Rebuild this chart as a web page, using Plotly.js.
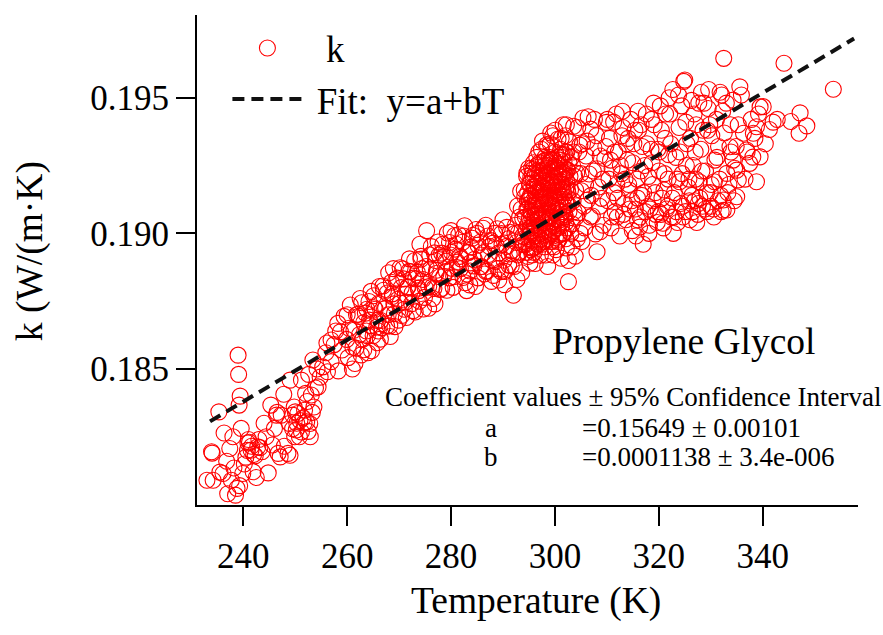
<!DOCTYPE html>
<html><head><meta charset="utf-8">
<script src="https://cdn.plot.ly/plotly-3.0.1.min.js"></script>
<style>html,body{margin:0;padding:0;background:#fff}#chart{width:883px;height:635px}</style>
</head><body><div id="chart"></div>
<script>
const band1 = [[239.0,0.18551],[239.1,0.18480],[239.4,0.18400],[235.3,0.18342],[239.2,0.18367],[236.3,0.18264],[239.6,0.18281],[234.0,0.18190],[237.4,0.18207],[240.9,0.18227],
[241.5,0.18201],[242.8,0.18213],[244.4,0.18250],[246.0,0.18281],[245.3,0.18367],[247.8,0.18407],[247.3,0.18330],[246.7,0.18189],[248.6,0.18189],[250.2,0.18275],
[251.2,0.18268],[252.8,0.18299],[250.5,0.18336],[251.8,0.18348],[253.1,0.18404],[254.4,0.18434],[251.2,0.18459],[255.3,0.18508],[256.9,0.18527],[256.9,0.18607],
[258.2,0.18668],[234.2,0.18090],[236.1,0.18115],[237.7,0.18090],[238.8,0.18060],[238.5,0.18035],[239.9,0.18115],[241.9,0.18121],[244.8,0.18117],[248.9,0.18299],
[251.7,0.18301],[235.5,0.18120],[236.8,0.18160],[238.2,0.18135],[240.5,0.18175],[241.2,0.18230],[242.0,0.18185],[243.0,0.18240],[243.6,0.18195],[240.2,0.18150],
[237.0,0.18040],[239.3,0.18070],[242.5,0.18100],[245.6,0.18220],[247.9,0.18215],[249.5,0.18330],[252.3,0.18380],[253.6,0.18360],[254.8,0.18470],[255.9,0.18560],
[257.5,0.18590],[257.8,0.18640],[256.2,0.18490],[253.9,0.18430],[252.0,0.18410],[250.9,0.18310],[249.9,0.18250],[244.0,0.18300],[246.5,0.18340],[238.0,0.18250],
[233.0,0.18090],[233.9,0.18195],[247.1,0.18176],[249.0,0.18182],[246.4,0.18330],[250.0,0.18342],[252.2,0.18305],[249.0,0.18459],[253.4,0.18533],[256.1,0.18596],
[254.2,0.18500],[252.6,0.18480],[249.5,0.18280],[250.3,0.18300],[251.5,0.18320],[252.5,0.18270],[253.3,0.18340],[250.8,0.18250],[249.8,0.18360],[252.9,0.18250],
[240.8,0.18200],[241.6,0.18215],[242.3,0.18180],[243.2,0.18210],[241.0,0.18240]];

const band2 = [[258.3,0.18493],[258.7,0.18637],[259.0,0.18570],[259.4,0.18694],[259.9,0.18609],[260.2,0.18542],[260.6,0.18736],[261.0,0.18500],[261.3,0.18643],[261.7,0.18577],
[262.1,0.18702],[262.4,0.18627],[262.8,0.18744],[263.2,0.18571],[263.5,0.18706],[263.9,0.18623],[264.3,0.18680],[264.6,0.18786],[265.0,0.18623],[265.4,0.18720],
[265.8,0.18597],[266.1,0.18742],[266.5,0.18679],[266.9,0.18806],[267.2,0.18721],[267.6,0.18658],[268.0,0.18855],[268.3,0.18620],[268.7,0.18767],[269.1,0.18704],
[269.4,0.18830],[269.8,0.18757],[270.2,0.18873],[270.5,0.18697],[270.9,0.18832],[271.3,0.18747],[271.6,0.18801],[272.0,0.18906],[272.4,0.18741],[272.7,0.18835],
[273.1,0.18710],[273.5,0.18856],[273.8,0.18789],[274.2,0.18915],[274.6,0.18830],[274.9,0.18764],[275.3,0.19010],[275.7,0.18724],[276.0,0.18868],[276.4,0.18803],
[276.8,0.18928],[277.1,0.18852],[277.5,0.18968],[277.9,0.18793],[278.2,0.18927],[278.6,0.18842],[279.0,0.18897],[279.3,0.19001],[279.7,0.18836],[280.1,0.18930],
[280.4,0.18801],[280.8,0.18942],[281.2,0.18874],[281.5,0.18995],[281.9,0.18906],[282.3,0.18837],[282.6,0.19028],[283.0,0.18789],[283.4,0.18930],[283.7,0.18861],
[284.1,0.18982],[284.5,0.18904],[284.8,0.19014],[285.2,0.18836],[285.6,0.18967],[285.9,0.18878],[286.3,0.18929],[286.7,0.19030],[287.0,0.18861],[287.4,0.18952],
[287.8,0.18823],[288.1,0.18964],[288.5,0.18896],[288.9,0.19017],[289.2,0.18928],[289.6,0.18859],[290.0,0.19050],[290.3,0.18811],[290.7,0.18952],[291.1,0.18883],
[291.4,0.19004],[291.8,0.18925],
[262.2,0.18694],[262.7,0.18552],[263.2,0.18671],[263.7,0.18640],[264.2,0.18749],[264.7,0.18567],[265.2,0.18726],[265.7,0.18655],[266.2,0.18804],[266.7,0.18652],
[267.4,0.18725],[267.7,0.18780],[268.2,0.18659],[268.7,0.18777],[269.2,0.18656],[269.7,0.18835],[270.2,0.18743],[270.7,0.18869],[271.2,0.18776],[271.7,0.18802],
[272.2,0.18859],[272.7,0.18715],[273.2,0.18832],[273.7,0.18798],[274.2,0.18905],[274.7,0.18721],[275.2,0.18878],[275.7,0.18804],[276.2,0.18951],[276.7,0.18797],
[277.2,0.18864],[277.7,0.18920],[278.2,0.18797],[278.7,0.18913],[279.2,0.18790],[279.7,0.18966],[280.2,0.18871],[280.7,0.18992],[281.2,0.18894],[281.7,0.18915],
[282.2,0.18967],[282.7,0.18818],[283.2,0.18930],[283.7,0.18891],[284.2,0.18993],[284.7,0.18804],[285.2,0.18956],[285.7,0.18877],[286.2,0.19019],[286.7,0.18860],
[287.2,0.18922],[287.7,0.18973],[288.2,0.18845],[288.7,0.18956],[289.2,0.18828],[289.7,0.18999],[290.2,0.18901],[290.7,0.19022],[291.2,0.18924],[291.7,0.18936],
[292.0,0.18772],
[260.4,0.18650],[261.1,0.18580],[261.8,0.18700],[262.5,0.18760],[263.0,0.18610],[263.8,0.18720],[264.5,0.18660],[265.1,0.18770],[265.9,0.18680],[266.4,0.18610],
[267.0,0.18790],[267.9,0.18700],[268.5,0.18820],[269.0,0.18740],[269.9,0.18680],[270.4,0.18800],[271.0,0.18720],[271.9,0.18860],[272.5,0.18780],[273.0,0.18900],
[273.9,0.18750],[274.4,0.18870],[275.0,0.18800],[275.9,0.18920],[276.5,0.18760],[277.0,0.18900],[277.8,0.18840],[278.4,0.18960],[279.1,0.18860],[279.9,0.18920],
[280.5,0.18840],[281.0,0.18960],[281.8,0.18870],[282.4,0.18990],[283.1,0.18850],[283.9,0.18950],[284.4,0.18880],[285.0,0.19000],[285.8,0.18920],[286.4,0.18850],
[287.1,0.18990],[287.9,0.18900],[288.4,0.19000],[289.0,0.18870],[289.8,0.18960],[290.4,0.18860],[291.0,0.18980],[291.6,0.18880],[292.3,0.19000],[292.7,0.18830],
[260.0,0.18700],[261.5,0.18520],[264.0,0.18560],[266.0,0.18640],[268.9,0.18870],[271.4,0.18690],[274.0,0.18960],[276.9,0.18740],[280.0,0.19010],[283.6,0.18810]];

const band3 = [[292.2,0.18878],[292.4,0.19030],[292.6,0.18966],[292.8,0.19101],[293.0,0.19003],[293.2,0.18931],[293.4,0.19155],[293.6,0.18855],[293.8,0.19055],[294.0,0.18958],
[294.2,0.19135],[294.4,0.19018],[294.6,0.19222],[294.8,0.18915],[295.0,0.19126],[295.2,0.18996],[295.4,0.19078],[295.6,0.19220],[295.8,0.18945],[296.0,0.19172],
[296.2,0.18889],[296.4,0.19109],[296.6,0.19050],[296.8,0.19161],[297.0,0.19014],[297.2,0.18919],[297.4,0.19165],[297.6,0.19057],[297.8,0.19265],[298.0,0.19110],
[298.2,0.18996],[298.4,0.19326],[298.6,0.18878],[298.8,0.19166],[299.0,0.19023],[299.2,0.19270],[299.4,0.19099],[299.6,0.19360],[299.8,0.18950],[300.0,0.19233],
[300.2,0.19054],[300.4,0.19160],[300.6,0.19348],[300.8,0.18978],[301.0,0.19270],[301.2,0.18908],[301.4,0.19183],[301.6,0.19107],[301.8,0.19239],[302.0,0.19060],
[302.2,0.18946],[302.4,0.19231],[302.6,0.19105],[302.8,0.19337],[303.0,0.19160],[303.3,0.19035],[303.6,0.19395],[303.9,0.18916],[304.2,0.19222],[304.5,0.19076],
[304.8,0.19325],[305.1,0.19157],[305.4,0.19425],[305.7,0.19020],[306.0,0.19285],[306.3,0.19123],[306.6,0.19219],[306.9,0.19384],[307.2,0.19064],[307.5,0.19316],
[307.8,0.18998],[308.1,0.19238],[308.4,0.19171],[308.7,0.19285],[309.0,0.19129],[309.3,0.19030],[309.6,0.19276],[309.9,0.19409],
[294.3,0.19060],[294.7,0.19120],[295.1,0.19180],[295.3,0.19020],[295.7,0.19100],[295.9,0.19260],[296.1,0.18990],[296.3,0.19150],[296.5,0.19230],[296.7,0.19070],
[296.9,0.19300],[297.1,0.19120],[297.3,0.18980],[297.5,0.19210],[297.7,0.19140],[297.9,0.19040],[298.1,0.19280],[298.3,0.19190],[298.5,0.19060],[298.7,0.19250],
[298.9,0.19110],[299.1,0.19330],[299.3,0.19180],[299.5,0.19000],[299.7,0.19210],[299.9,0.19130],[300.1,0.19300],[300.3,0.19090],[300.5,0.19240],[300.7,0.19170],
[300.9,0.19050],[301.1,0.19310],[301.3,0.19220],[301.5,0.19000],[301.7,0.19150],[301.9,0.19290],[302.1,0.19120],[302.3,0.19190],[302.5,0.19020],[302.7,0.19260],
[294.9,0.18980],[295.5,0.19240],[296.0,0.18930],[297.0,0.19260],[298.0,0.18950],[299.0,0.19160],[300.0,0.19380],[301.0,0.19110],[302.0,0.19360],[303.2,0.19280],
[293.5,0.19090],[293.9,0.18960],[294.1,0.19160],[295.2,0.18890],[296.8,0.18960],[297.6,0.19340],[298.6,0.19320],[299.6,0.18920],[300.6,0.18990],[301.6,0.19400],
[302.6,0.18900],[303.5,0.19120],[303.8,0.19210],[304.4,0.19390],[304.9,0.19000],[305.3,0.19330],[305.9,0.19180],[306.4,0.19430],[307.0,0.19140],[307.6,0.19420],
[302.6,0.18822],
[294.5,0.19010],[294.8,0.19090],[295.0,0.18950],[295.3,0.19140],[295.5,0.19060],[295.8,0.19200],[296.0,0.19030],[296.2,0.19120],[296.4,0.18980],[296.6,0.19190],
[296.9,0.19080],[297.1,0.19230],[297.3,0.19050],[297.5,0.18960],[297.7,0.19170],[297.9,0.19250],[298.1,0.19070],[298.3,0.19130],[298.5,0.19220],[298.7,0.18990],
[298.9,0.19280],[299.1,0.19060],[299.3,0.19140],[299.5,0.19240],[299.7,0.19030],[299.9,0.19190],[300.1,0.19100],[300.3,0.19260],[300.5,0.18970],[300.7,0.19210],
[300.9,0.19140],[301.1,0.19040],[301.3,0.19280],[301.5,0.19170],[301.7,0.19060],[301.9,0.19220],[302.1,0.18980],[302.3,0.19300],[302.5,0.19150],[302.7,0.19080],
[302.9,0.19210],[303.1,0.19000],[303.4,0.19250],[303.7,0.19080],[304.0,0.19160],[304.3,0.18980],[294.6,0.18930],[295.6,0.18920],[296.5,0.19280],[297.4,0.19310],
[298.2,0.18920],[299.2,0.19370],[300.2,0.18940],[301.2,0.19350],[302.2,0.19400],[303.3,0.18950],[304.6,0.19300],[293.8,0.18990],[293.2,0.19060],[292.9,0.18920],
[295.4,0.19000],[296.3,0.19070],[297.2,0.19150],[298.4,0.19040],[299.4,0.18970],[300.4,0.19190],[301.4,0.19080],[302.4,0.19160],[303.6,0.19300],[304.1,0.19060],
[305.0,0.19220],[305.6,0.19100],[306.2,0.19340],[306.8,0.19060],[307.4,0.19230],[308.0,0.19360],[308.6,0.19100],[309.2,0.19200],[309.8,0.19320],[305.2,0.18970]];

const core = [[294.5,0.18960],[294.7,0.19030],[294.6,0.19090],[294.75,0.19150],[294.55,0.19210],
[294.9,0.18990],[295.1,0.19055],[295.0,0.19120],[295.15,0.19185],[294.95,0.19240],
[295.3,0.18940],[295.5,0.19010],[295.4,0.19075],[295.55,0.19140],[295.35,0.19205],
[295.7,0.18975],[295.9,0.19040],[295.8,0.19105],[295.95,0.19170],[295.75,0.19235],
[296.1,0.18950],[296.3,0.19020],[296.2,0.19085],[296.35,0.19150],[296.15,0.19215],
[296.5,0.18990],[296.7,0.19055],[296.6,0.19120],[296.75,0.19185],[296.55,0.19250],
[296.9,0.18960],[297.1,0.19030],[297.0,0.19095],[297.15,0.19160],[296.95,0.19225],
[297.3,0.19000],[297.5,0.19065],[297.4,0.19130],[297.55,0.19195],[297.35,0.19260],
[297.7,0.18970],[297.9,0.19040],[297.8,0.19105],[297.95,0.19170],[297.75,0.19235],
[298.1,0.19010],[298.3,0.19075],[298.2,0.19140],[298.35,0.19205],[298.15,0.19270],
[298.5,0.18980],[298.7,0.19045],[298.6,0.19110],[298.75,0.19175],[298.55,0.19240],
[298.9,0.19000],[299.1,0.19065],[299.0,0.19130],[299.15,0.19195],[298.95,0.19260],
[299.3,0.18970],[299.5,0.19040],[299.4,0.19105],[299.55,0.19170],[299.35,0.19235],
[299.7,0.19010],[299.9,0.19075],[299.8,0.19140],[299.95,0.19205],[299.75,0.19270],
[300.1,0.18985],[300.3,0.19050],[300.2,0.19115],[300.35,0.19180],[300.15,0.19245],
[300.5,0.19020],[300.7,0.19085],[300.6,0.19150],[300.75,0.19215],[300.55,0.19280],
[300.9,0.18995],[301.1,0.19060],[301.0,0.19125],[301.15,0.19190],[300.95,0.19255],
[301.3,0.19030],[301.5,0.19095],[301.4,0.19160],[301.55,0.19225],[301.35,0.19290],
[301.7,0.19000],[301.9,0.19070],[301.8,0.19135],[301.95,0.19200],[301.75,0.19265],
[302.1,0.19040],[302.3,0.19105],[302.2,0.19170],[302.35,0.19235],[302.15,0.19300]];

const band4 = [[310.2,0.19120],[310.5,0.19350],[310.8,0.19020],[311.0,0.19240],[311.3,0.19410],[311.6,0.19080],[311.9,0.19180],[312.2,0.19300],[312.5,0.18990],[312.8,0.19220],
[313.1,0.19390],[313.4,0.19110],[313.7,0.19050],[314.0,0.19270],[314.3,0.19160],[314.6,0.19420],[314.9,0.19010],[315.2,0.19330],[315.5,0.19090],[315.8,0.19200],
[316.1,0.19380],[316.4,0.19060],[316.7,0.19140],[317.0,0.18960],[317.3,0.19250],[317.6,0.19440],[317.9,0.19100],[318.2,0.19030],[318.5,0.19310],[318.8,0.19180],
[319.1,0.19400],[319.4,0.19070],[319.7,0.19040],[320.0,0.19230],[320.3,0.19470],[320.6,0.19130],[320.9,0.19020],[321.2,0.19350],[321.5,0.19090],[321.8,0.19200],
[322.1,0.19440],[322.4,0.19060],[322.7,0.19530],[323.0,0.19150],[323.3,0.19280],[323.6,0.19040],[323.9,0.19390],[324.2,0.19110],[324.5,0.19220],[324.8,0.19560],
[325.1,0.19080],[325.4,0.19330],[325.7,0.19170],[326.0,0.19050],[326.3,0.19490],[326.6,0.19250],[326.9,0.19120],[327.2,0.19400],[327.5,0.19070],[327.8,0.19190],
[328.1,0.19310],[328.4,0.19100],[328.7,0.19480],[329.0,0.19230],[329.3,0.19080],[329.6,0.19530],[329.9,0.19150],[330.2,0.19360],[330.5,0.19090],[330.8,0.19270],
[331.1,0.19420],[331.4,0.19120],[331.7,0.19200],[332.0,0.19080],[332.3,0.19450],
[310.7,0.19270],[311.4,0.19150],[312.0,0.19060],[312.9,0.19360],[313.5,0.19200],[314.4,0.19090],[315.0,0.19260],[315.9,0.19130],[316.8,0.19320],[317.4,0.19080],
[318.0,0.19210],[318.9,0.19120],[319.8,0.19310],[320.4,0.19070],[321.0,0.19160],[321.9,0.19290],[322.6,0.19130],[323.4,0.19080],[324.0,0.19190],[324.6,0.19100],
[325.3,0.19250],[325.9,0.19120],[326.5,0.19080],[327.1,0.19200],[327.9,0.19130],[328.5,0.19380],[329.2,0.19150],[330.0,0.19100],[330.7,0.19190],[331.5,0.19320],
[313.0,0.19450],[316.0,0.19450],[319.0,0.19480],[321.3,0.19440],[323.8,0.19510],[325.0,0.19565],[326.8,0.19440],[328.2,0.19520],[329.5,0.19460],[331.8,0.19520],
[308.1,0.18932],[308.7,0.19006],[316.3,0.19023],[320.8,0.19037],[332.4,0.19085],
[310.4,0.19200],[310.9,0.19060],[311.5,0.19300],[312.1,0.19130],[312.6,0.19250],[313.2,0.19070],[313.8,0.19330],[314.2,0.19180],[314.8,0.19120],[315.4,0.19380],
[315.9,0.19050],[316.5,0.19230],[317.1,0.19150],[317.7,0.19330],[318.3,0.19090],[318.7,0.19260],[319.3,0.19150],[319.9,0.19080],[320.5,0.19380],[321.1,0.19220],
[321.7,0.19100],[322.3,0.19330],[322.9,0.19060],[323.5,0.19200],[324.1,0.19300],[324.7,0.19060],[325.2,0.19410],[325.8,0.19200],[326.4,0.19140],[327.0,0.19300],
[327.6,0.19110],[328.3,0.19230],[328.9,0.19090],[329.4,0.19380],[330.1,0.19180],[330.6,0.19060],[331.2,0.19280],[331.9,0.19140],[332.6,0.19370],[333.3,0.19150],
[333.8,0.19400],[334.5,0.19120],[334.9,0.19320],[310.1,0.19420],[311.8,0.19440],[314.1,0.19350],[316.6,0.19400],[318.6,0.19420],[320.1,0.19300],[322.0,0.19500],
[324.4,0.19470],[326.1,0.19350],[327.7,0.19480],[329.8,0.19400],[332.1,0.19510],[333.0,0.19480],[315.6,0.18990],[318.1,0.19000],[322.8,0.19000],[327.3,0.19040]];

const band5 = [[332.5,0.19645],[333.1,0.19086],[333.5,0.19180],[333.9,0.19300],[334.3,0.19491],[334.6,0.19240],[335.0,0.19135],[335.3,0.19400],[335.6,0.19540],[335.9,0.19510],
[336.3,0.19369],[336.6,0.19200],[337.0,0.19300],[337.5,0.19258],[337.8,0.19420],[338.1,0.19281],[338.5,0.19350],[338.8,0.19190],[339.2,0.19440],[339.5,0.19282],
[339.5,0.19466],[340.1,0.19467],[340.5,0.19330],[341.3,0.19383],[342.0,0.19410],[342.8,0.19420],[343.4,0.19809],[344.1,0.19627],[345.4,0.19412],[347.0,0.19369],
[347.2,0.19444],[348.5,0.19396],[353.6,0.19531],[358.4,0.19729],[338.2,0.19369],[338.8,0.19393],[333.7,0.19319],[334.3,0.19270],[333.1,0.19221],[336.9,0.19307],
[335.0,0.19233],[332.4,0.19123],[335.3,0.19197]];

// Linear fit y = a + bT, endpoints
const fitT = [233.6, 357.6];
const fitK = [0.18307, 0.19718];
const fitA = "0.15649 ± 0.00101";
const fitB = "0.0001138 ± 3.4e-006";

const pts = band1.concat(band2, band3, core, band4, band5);
const serif = "'Liberation Serif', 'Times New Roman', serif";
const nb = "\u00A0";

const data = [
  {type:'scatter', mode:'markers', name: nb + nb + 'k', x: pts.map(p=>p[0]), y: pts.map(p=>p[1]),
   cliponaxis:false,
   marker:{symbol:'circle-open', size:16, color:'#ff0000', line:{width:1.1, color:'#ff0000'}}},
  {type:'scatter', mode:'lines', name: nb + 'Fit:' + nb + nb + 'y=a+bT', x: fitT, y: fitK,
   line:{color:'#111111', width:4, dash:'12px,7px'}}
];

const layout = {
  width:883, height:635,
  paper_bgcolor:'#ffffff', plot_bgcolor:'#ffffff',
  margin:{l:197, r:25, t:15, b:130},
  showlegend:true,
  legend:{x:0.046, y:0.995, xanchor:'left', yanchor:'top', bgcolor:'rgba(0,0,0,0)',
          font:{family:serif, size:37, color:'#000'}, itemwidth:70, tracegroupgap:0},
  xaxis:{range:[231.09, 358.35], showgrid:false, zeroline:false, showline:true, linewidth:2, linecolor:'#000',
         ticks:'outside', ticklen:19, tickwidth:2, tickcolor:'#000', tickvals:[240,260,280,300,320,340],
         tickfont:{family:serif, size:35, color:'#000'}},
  yaxis:{range:[0.179987, 0.198048], showgrid:false, zeroline:false, showline:true, linewidth:2, linecolor:'#000',
         ticks:'outside', ticklen:19, tickwidth:2, tickcolor:'#000', tickvals:[0.185,0.190,0.195],
         ticktext:['0.185','0.190','0.195'],
         tickfont:{family:serif, size:35, color:'#000'}},
  annotations:[
    {xref:'paper', yref:'paper', x:0.5136, y:-0.196, xanchor:'center', yanchor:'middle', showarrow:false,
     text:'Temperature (K)', font:{family:serif, size:37.5, color:'#000'}},
    {xref:'paper', yref:'paper', x:-0.2526, y:0.518, xanchor:'center', yanchor:'middle', showarrow:false,
     textangle:-90, text:'k (W/(m·K)', font:{family:serif, size:37.5, color:'#000'}},
    {xref:'paper', yref:'paper', x:0.737, y:0.333, xanchor:'center', yanchor:'middle', showarrow:false,
     text:'Propylene Glycol', font:{family:serif, size:37.5, color:'#000'}},
    {xref:'paper', yref:'paper', x:0.66, y:0.22, xanchor:'center', yanchor:'middle', showarrow:false,
     text:'Coefficient values ± 95% Confidence Interval', font:{family:serif, size:27, color:'#000'}},
    {xref:'paper', yref:'paper', x:0.445, y:0.157, xanchor:'center', yanchor:'middle', showarrow:false,
     text:'a', font:{family:serif, size:27, color:'#000'}},
    {xref:'paper', yref:'paper', x:0.579, y:0.157, xanchor:'left', yanchor:'middle', showarrow:false,
     text:'=' + fitA, font:{family:serif, size:27, color:'#000'}},
    {xref:'paper', yref:'paper', x:0.445, y:0.098, xanchor:'center', yanchor:'middle', showarrow:false,
     text:'b', font:{family:serif, size:27, color:'#000'}},
    {xref:'paper', yref:'paper', x:0.579, y:0.098, xanchor:'left', yanchor:'middle', showarrow:false,
     text:'=' + fitB, font:{family:serif, size:27, color:'#000'}}
  ]
};

Plotly.newPlot('chart', data, layout, {displayModeBar:false, staticPlot:true});
</script></body></html>
